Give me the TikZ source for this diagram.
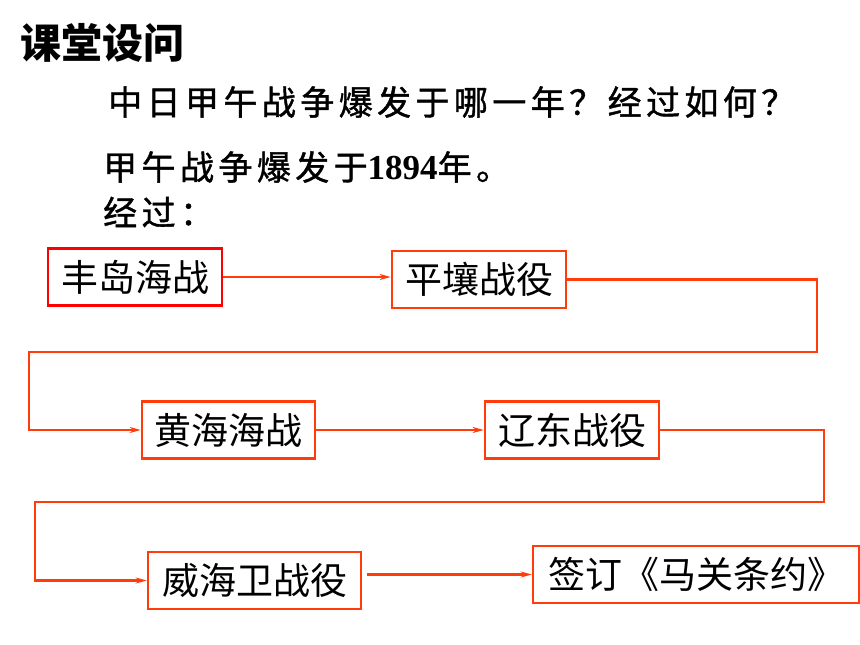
\documentclass[tikz,border=0pt]{standalone}
\usepackage{fontspec}
\usetikzlibrary{arrows.meta}
\newfontfamily\cjk{Noto Sans CJK SC}
\newfontfamily\cjkls[LetterSpace=13,FakeBold=1.2]{Noto Sans CJK SC}
\newfontfamily\tnr{Liberation Serif}
\definecolor{lineor}{RGB}{255,60,10}
\definecolor{pured}{RGB}{255,0,0}
\tikzset{
  box/.style={draw=lineor, line width=2.6pt, fill=white, inner sep=0pt, minimum height=57pt,
    font=\cjk\fontsize{37}{40}\selectfont, text=black},
  conn/.style={draw=lineor, line width=2.2pt, -{Stealth[length=11pt,width=6pt]}},
  txt/.style={inner sep=0pt, anchor=west, text=black}
}
\begin{document}
\begin{tikzpicture}[x=1pt,y=-1pt]
\path[use as bounding box] (0,0) rectangle (860,645);
\node[txt, font=\cjk\bfseries\fontsize{41}{44}\selectfont] (title) at (20,43) {课堂设问};
\node[txt, font=\cjkls\fontsize{34}{38}\selectfont] (q) at (108,102) {中日甲午战争爆发于哪一年？经过如何？};
\node[txt, font=\cjkls\fontsize{34}{38}\selectfont] (a) at (103,167) {甲午战争爆发于{\tnr\bfseries\fontsize{35}{36}\selectfont 1894}年。};
\node[txt, font=\cjkls\fontsize{34}{38}\selectfont] (j) at (103,212) {经过：};

\node[box, draw=pured, minimum width=174pt] (b1) at (135,277) {丰岛海战};
\node[box, minimum width=174pt] (b2) at (479,279.5) {平壤战役};
\node[box, minimum width=173pt] (b3) at (228.5,430) {黄海海战};
\node[box, minimum width=174pt] (b4) at (572,430) {辽东战役};
\node[box, minimum width=213pt] (b5) at (254.5,580.5) {威海卫战役};
\node[box, minimum width=326pt] (b6) at (696,574.5) {签订《马关条约》};

\coordinate (c2a) at (817,352);
\coordinate (c2b) at (29,352);
\coordinate (c4a) at (824,502);
\coordinate (c4b) at (35,502);

\draw[conn] (b1.east) -- (b1.east -| b2.west);
\draw[conn] (b2.east) -| (c2a) -- (c2b) |- (b3.west);
\draw[conn] (b3.east) -- (b4.west);
\draw[conn] (b4.east) -| (c4a) -- (c4b) |- (b5.west);
\draw[conn, shorten <=5pt] (b5.east |- b6.west) -- (b6.west);
\end{tikzpicture}
\end{document}
